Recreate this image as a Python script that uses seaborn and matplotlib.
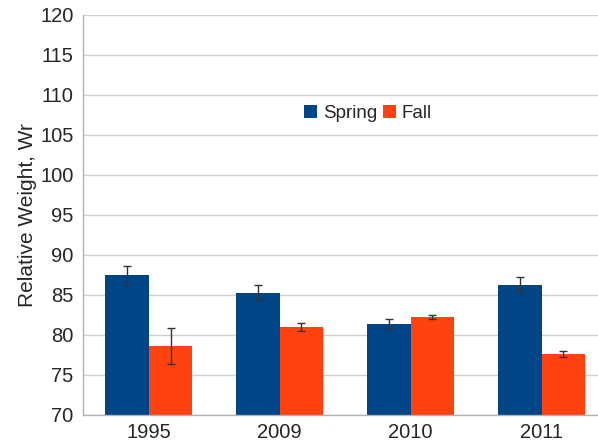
import matplotlib
matplotlib.use("Agg")
import matplotlib.pyplot as plt
from matplotlib.ticker import FixedLocator
import seaborn as sns
import pandas as pd
import numpy as np

years = ["1995", "2009", "2010", "2011"]
seasons = ["Spring", "Fall"]
spring_wr = [87.5, 85.3, 81.4, 86.3]
fall_wr = [78.6, 81.0, 82.2, 77.6]
spring_err = [1.15, 0.95, 0.6, 0.9]
fall_err = [2.25, 0.5, 0.25, 0.35]
colors = ["#004586", "#ff420e"]

df = pd.DataFrame({
    "Year": years * 2,
    "Season": ["Spring"] * 4 + ["Fall"] * 4,
    "Wr": spring_wr + fall_wr,
})

sns.set_style("white")
plt.rcParams["font.family"] = ["Liberation Sans", "DejaVu Sans"]

fig = plt.figure(figsize=(5.98, 4.42), dpi=100)
ax = fig.add_axes([83.3 / 598, 1 - 415 / 442, 1 - 83.3 / 598, 400 / 442])

sns.barplot(data=df, x="Year", y="Wr", hue="Season", order=years,
            hue_order=seasons, palette=colors, width=0.664,
            errorbar=None, saturation=1, ax=ax, linewidth=0)

# error bars at bar centres
errs = {"Spring": spring_err, "Fall": fall_err}
vals = {"Spring": spring_wr, "Fall": fall_wr}
for container, s in zip(ax.containers, seasons):
    xs = [p.get_x() + p.get_width() / 2 for p in container.patches]
    ax.errorbar(xs, vals[s], yerr=errs[s], fmt="none", ecolor="#333333",
                elinewidth=1, capsize=3, capthick=1, zorder=5)

ax.set_ylim(70, 120)
ax.set_xlim(-0.5, 3.43)
ax.set_yticks(np.arange(70, 121, 5))
ax.yaxis.grid(True, color="#d0d0d0", linewidth=1)
ax.set_axisbelow(True)

for side in ["top", "right"]:
    ax.spines[side].set_visible(False)
for side in ["left", "bottom"]:
    ax.spines[side].set_color("#b3b3b3")
    ax.spines[side].set_linewidth(1)

ax.tick_params(axis="y", length=5, color="#b3b3b3", labelsize=14.5, pad=2)
ax.tick_params(axis="x", which="major", length=0, labelsize=14.5, pad=6)
ax.xaxis.set_minor_locator(FixedLocator([0.5, 1.5, 2.5]))
ax.tick_params(axis="x", which="minor", length=5, color="#b3b3b3")

ax.set_xlabel("")
ax.set_ylabel("Relative Weight, Wr", fontsize=15, labelpad=2)

ax.legend(loc="center", bbox_to_anchor=(0.615, 0.744),
          bbox_transform=fig.transFigure, ncol=2, frameon=False,
          fontsize=13.5, handlelength=0.7, handleheight=0.7,
          handletextpad=0.3, columnspacing=0.3)

plt.savefig("out.png", dpi=100)
